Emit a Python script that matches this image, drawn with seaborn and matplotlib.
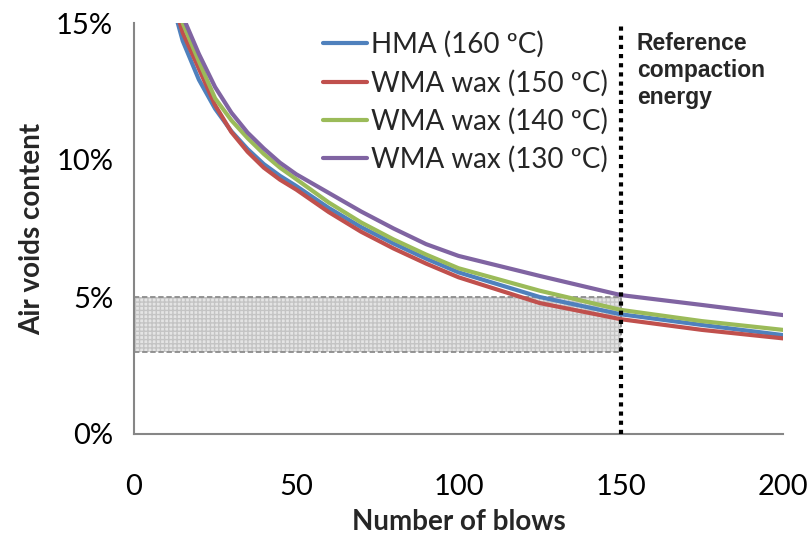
import matplotlib
matplotlib.use("Agg")
import matplotlib.pyplot as plt
from matplotlib.patches import Rectangle
from matplotlib.ticker import MultipleLocator, FuncFormatter
import seaborn as sns
import pandas as pd

# ---- data ----
blows = [10, 15, 20, 25, 30, 35, 40, 45, 50, 60, 70, 80, 90, 100, 125, 150, 175, 200]
hma_160 = [16.5, 14.35, 12.93, 11.87, 11.05, 10.4, 9.85, 9.42, 9.05, 8.25, 7.55, 6.95, 6.4, 5.9, 5.0, 4.37, 3.98, 3.61]
wma_150 = [16.7, 14.65, 13.33, 12.0, 11.02, 10.3, 9.72, 9.28, 8.92, 8.1, 7.38, 6.77, 6.22, 5.72, 4.78, 4.19, 3.8, 3.49]
wma_140 = [17.0, 15.0, 13.6, 12.25, 11.45, 10.8, 10.22, 9.72, 9.3, 8.45, 7.72, 7.1, 6.55, 6.05, 5.23, 4.53, 4.12, 3.8]
wma_130 = [17.3, 15.25, 13.87, 12.66, 11.73, 11.0, 10.42, 9.9, 9.48, 8.8, 8.12, 7.5, 6.93, 6.5, 5.77, 5.07, 4.71, 4.34]
series_names = ["HMA (160 ºC)", "WMA wax (150 ºC)", "WMA wax (140 ºC)", "WMA wax (130 ºC)"]
series_colors = ["#4F81BD", "#C0504D", "#9BBB59", "#8064A2"]
zone_x = [0, 150]
zone_y = [3, 5]
reference_blows = 150
annotation = "Reference\ncompaction\nenergy"

rows = []
for name, vals in zip(series_names, [hma_160, wma_150, wma_140, wma_130]):
    for b, v in zip(blows, vals):
        rows.append({"blows": b, "voids": v, "mix": name})
df = pd.DataFrame(rows)

sns.set_style("white")
plt.rcParams["font.family"] = ["Lato", "DejaVu Sans"]

fig = plt.figure(figsize=(8.1, 5.36), dpi=100)
ax = fig.add_axes([134 / 810, 1 - 434 / 536, 649 / 810, 411 / 536])

# shaded target zone
ax.add_patch(Rectangle((zone_x[0], zone_y[0]), zone_x[1] - zone_x[0], zone_y[1] - zone_y[0],
                       facecolor="#e4e4e4", edgecolor="#c4c4c4", hatch="++++", linewidth=0, zorder=1))
ax.add_patch(Rectangle((zone_x[0], zone_y[0]), zone_x[1] - zone_x[0], zone_y[1] - zone_y[0],
                       facecolor="none", edgecolor="#8c8c8c", linestyle=(0, (3, 1.5)), linewidth=1.3, zorder=2))

sns.lineplot(data=df, x="blows", y="voids", hue="mix", palette=series_colors,
             linewidth=3.0, ax=ax, zorder=3, legend=True)

ax.axvline(reference_blows, color="black", linestyle=(0, (1, 1.2)), linewidth=3, zorder=4)

ax.set_xlim(0, 200)
ax.set_ylim(0, 15)
ax.xaxis.set_major_locator(MultipleLocator(50))
ax.xaxis.set_minor_locator(MultipleLocator(10))
ax.yaxis.set_major_locator(MultipleLocator(5))
ax.yaxis.set_minor_locator(MultipleLocator(1))
ax.yaxis.set_major_formatter(FuncFormatter(lambda v, p: f"{v:.0f}%"))

for s in ["top", "right"]:
    ax.spines[s].set_visible(False)
for s in ["left", "bottom"]:
    ax.spines[s].set_color("#868686")
    ax.spines[s].set_linewidth(1.5)

ax.tick_params(which="major", direction="inout", length=12, width=1.3, color="#868686",
               labelsize=21, pad=9, labelcolor="black")
ax.tick_params(which="minor", direction="in", length=4.5, width=1.3, color="#868686")
ax.tick_params(axis="x", which="major", pad=23)

ax.set_xlabel("Number of blows", fontsize=20, fontweight="bold", labelpad=6)
ax.set_ylabel("Air voids content", fontsize=20, fontweight="bold", labelpad=8)

handles, labels = ax.get_legend_handles_labels()
leg = ax.legend(handles, labels, loc="upper left", bbox_to_anchor=(0.291, 0.98), frameon=False,
                fontsize=20, handlelength=1.6, handletextpad=0.12, labelspacing=0.41,
                borderaxespad=0.0, borderpad=0.0)
for line in leg.get_lines():
    line.set_linewidth(3.0)

ax.text(155.0, 14.66, annotation, fontsize=16.5, fontweight="bold", va="top", ha="left",
        family=["Liberation Sans", "DejaVu Sans"], linespacing=1.2)

fig.savefig("out.png", dpi=100)
